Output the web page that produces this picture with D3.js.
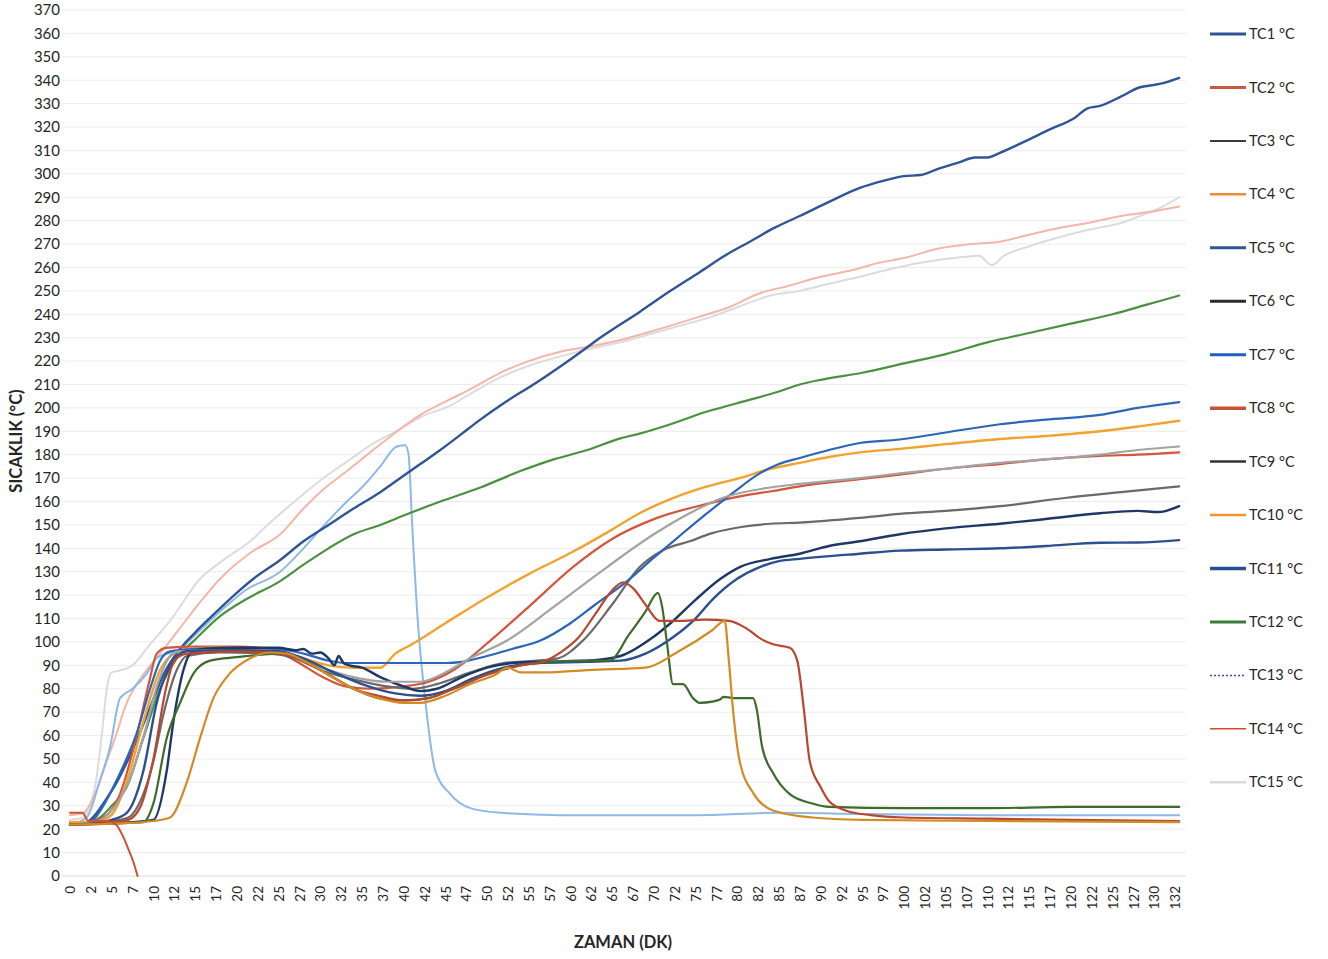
<!DOCTYPE html>
<html>
<head>
<meta charset="utf-8">
<script src="https://cdn.jsdelivr.net/npm/d3@7"></script>
<style>
  html, body { margin: 0; padding: 0; background: #ffffff; }
  svg { display: block; font-family: Lato, "Open Sans", sans-serif; }
</style>
</head>
<body>
<svg id="chart" width="1328" height="959"></svg>
<script>
// Thermocouple readings: [minute, °C]
const tc1 = [[0,22],[2,23],[3,26],[4,31],[5.6,40],[7,50],[8,58],[9.6,72],[11.2,86],[13.2,97],[15,104],[17,111],[20,121],[22,127],[25.2,135],[28,143],[31,150],[34,157],[37.2,164],[40,171],[42,176],[44.4,182],[47,189],[49.2,195],[52,202],[56,211],[60.5,222],[64,231],[68.3,241],[72,250],[75.5,258],[78.5,265],[81.5,271],[84.5,277],[87.5,282],[91,288],[94.7,294],[97.5,297],[100,299],[102,299.5],[104,302],[106.7,305],[108.5,307],[110,307],[111.5,309],[114,313],[117.5,319],[120.5,324],[122,328],[123.5,329],[126,333],[128.3,337],[130,338],[131.3,339],[133,341]];
const tc2 = [[0,23],[2,23],[4,25],[6,35],[8,60],[9.5,83],[10.4,95],[11.5,97.5],[15,98],[20,98],[24,97],[27,92],[30.3,85],[33,81],[36,80],[40,81],[43,83],[46,88],[50.4,100.6],[55,115],[60.3,132],[65,144],[70.4,153],[76.4,159],[80,162],[84.3,164.5],[87.5,166.5],[94.7,169.5],[99.5,171.5],[105,174],[111.5,176],[117,178],[123.5,179.5],[128,180],[133,181]];
const tc3 = [[0,22],[4,23],[7,25],[8,29],[10,49],[11.2,69],[12.8,88],[14,94],[18,95.5],[24,95],[27,93],[30,88],[34,84],[38,81],[41,80],[44,82],[48,87],[52,91],[56,92],[58.5,93],[61.5,100.6],[65,116],[68.3,132],[71,139],[74.3,143],[77,146.5],[80.3,149],[84,150.5],[87.5,151],[94.7,153],[99.5,154.7],[105,156],[111.5,158],[119.5,161.6],[126,164],[133,166.5]];
const tc4 = [[0,23],[2,23],[4,24],[5.2,27],[7.2,45],[8.8,66],[10.8,88],[12.4,95],[14,97],[18,97.5],[22,97],[25,96],[28,93],[31,90],[34,89],[37.2,89],[39,95],[41,99],[45,108],[50,119],[55,129],[60,138],[65,148],[68.3,155],[72,161],[76,166],[80.3,170],[84,174],[87.5,176.5],[91,179],[94.7,181],[99.5,182.5],[105,184.5],[111.5,186.7],[117,188],[123.5,190],[128,192],[133,194.5]];
const tc5 = [[0,22],[2,22.5],[2.8,24],[4,30],[5.6,41],[8,61],[9.6,80],[10.8,92],[12,96],[15,97],[20,97.5],[25,97],[28,95],[31,92],[33,91],[40,91],[45,91],[47,91.5],[50,94],[53,97],[56.4,100.6],[60,108],[63,116],[66.8,126],[70,136],[73,145],[76.4,155],[79.6,164],[82.7,172],[85,176],[87.5,178.6],[91,182],[94.7,185],[99.5,186.5],[105,189.5],[111.5,193],[117,195],[123.5,197],[128,200],[133,202.5]];
const tc6 = [[0,22],[5,22.5],[10,24],[11.6,45],[12.4,66],[13.6,88],[14.4,95],[16,97],[20,97.5],[25,97.5],[27,96.5],[28,97],[29,95],[30,95.5],[31,93],[31.7,90],[32.2,94],[32.8,91],[33.5,90],[35,89],[37.2,85],[40,81],[42,79],[44,80],[47,85],[50,89],[53,91],[56,91.5],[62,92],[66,94],[69.9,102],[72,108],[75,118],[78,127],[80.3,132],[84,135.5],[87.5,137.7],[91,141],[94.7,143],[99.5,146],[105,148.5],[111.5,150.5],[117,152.5],[123.5,155],[128,156],[130.5,155.5],[133,158]];
const tc7 = [[0,22],[2,25],[3.6,41],[4.8,55],[6,76],[7.5,80],[9.2,86.5],[10.4,93],[13.2,97],[15,103],[18,113],[21,122],[25.2,130],[28,140],[30,148],[33.2,160],[35,166],[37.2,175],[39.2,183.5],[40.2,184],[40.6,180],[41,152],[41.7,109],[42.6,75],[43.8,45],[45.6,35],[48,29],[51.6,27],[58.8,26],[75,26],[85,27],[95,26.5],[110,26],[133,26]];
const tc8 = [[0,22],[4,22.5],[7,24],[8.5,30],[10,50],[11.5,80],[12.5,92],[14,95],[20,96],[25,95],[28,92],[31,86],[34,80],[37,77],[40,75],[43,76],[46,80],[50,86],[54,90],[57,92],[59,96],[61,102],[63,112],[65,122],[66.3,125.5],[67.5,123],[69,116],[70.7,109],[73,109],[76,109.5],[79,109],[81,106],[83,101],[84.3,99],[86.3,97.5],[87.2,92],[88,71],[88.7,49],[90,38],[91,32],[93,28],[96,26],[100,25],[110,24.5],[120,24],[133,23.5]];
const tc9 = [[0,22],[3,23],[5,28],[7,40],[9,62],[10.5,82],[11.8,93],[13,96],[20,96.5],[25,95.5],[28,92],[31,88],[34,85],[38,83],[42,83],[45,87],[48,93],[52.4,100.6],[58,115],[64.4,132],[70,146],[74.3,155],[78.3,161.6],[84,166],[87.5,167.5],[94.7,170],[99.5,172],[105,174],[111.5,176.5],[117,178],[123.5,180],[128,182],[133,183.5]];
const tc10 = [[0,22],[6,22.5],[10,23.5],[12,25],[14,40],[15.6,59],[17.2,76],[18.8,85],[21.6,93],[24,95.5],[26,95],[28,92],[31,86],[34,80],[37,76],[40,74],[42,74],[45,77],[48,82],[51,86],[52.5,89],[54,87],[57,87],[62,88],[66,88.5],[69,89],[73,96],[77,105],[78.5,109],[79,92],[79.5,71],[80.3,49],[82,35],[84.3,28],[89,25],[95,24],[110,23.5],[133,23]];
const tc11 = [[0,22],[3,22.5],[5,24],[6.8,27],[8.8,45],[10.4,74],[12.4,92],[14,96],[20,96.5],[25,96],[28,93],[31,88],[35,82],[39,78],[42,77],[45,79],[48,84],[52,89],[56,91],[62,91.5],[66,92],[69,95],[72.3,102],[75,110],[77,118],[80,127],[82.7,132],[85,134.5],[87.5,135.5],[94.7,137.7],[99.5,139],[105,139.5],[111.5,140],[117,141],[123.5,142.4],[128,142.5],[133,143.5]];
const tc12 = [[0,22],[2,22.5],[3.6,25],[5,30],[6.8,38],[8.8,59],[10.8,80],[12.8,93],[15,101],[18,111],[21,118],[25.2,126],[28,133],[31,140],[34,146],[37.2,150],[40,154],[44.4,160],[49.2,166],[54,173],[58,178],[62,182],[66,187],[68.3,189],[72,193],[76,198],[80,202],[85,207],[87.5,210],[90,212],[95,215],[100,219],[105,223],[110,228],[115,232],[120,236],[125,240],[129,244],[133,248]];
const tc13 = [[0,22],[5,22.5],[8.8,23],[10,31],[11.6,59],[13.2,74],[14.8,86.5],[16.8,92],[20,93.5],[25,95],[28,92],[31,86],[34,80],[37,76],[40,75],[43,76],[46,80],[50,86],[54,90],[58,91.5],[62,92],[64.7,92],[67,103],[69,113],[70.5,121],[71,115],[71.6,99],[72.3,82],[73.5,82],[74.7,76],[75.5,74],[77,74.5],[78,75.5],[78.3,76.5],[80,76],[81.9,76],[82.3,72],[83,55],[84.3,44],[86.3,35],[89,31],[91,29.5],[100,29],[110,29],[120,29.5],[133,29.5]];
const tc14 = [[0,27],[1.5,27],[2.2,23.5],[4.4,23.5],[5.5,22],[6.4,16.6],[7,11.5],[7.6,6],[8.1,0]];
const tc15 = [[0,24],[1.5,25],[3,38],[3.8,60],[4.5,82],[5,87],[6.2,88],[7.5,90],[9.6,99],[12,109],[15.6,127],[18,134],[21.6,143],[24,151],[27.6,162],[30,169],[33.6,178],[36,184],[39.6,191],[42,196],[45.6,201],[48,206],[51.6,213],[55,218],[58.8,222],[62,225],[66,228],[70,232],[73,235],[77,239],[80,243],[84,248],[87.5,250],[91,253],[94.7,256],[98,259],[102,262],[106,264],[109,265],[110.5,261],[112,265],[115,269],[118.7,273],[122,276],[126,279],[129,283],[131,286],[133,290]];
const tc16 = [[0,26],[1.6,27],[3,35],[4.4,49],[5.5,60],[6.8,74],[8,82],[9.2,88],[10.8,95],[13.2,106],[15.6,117],[18,127],[21.6,138],[25.2,146],[28,157],[30,164],[33.2,173],[36,181],[39.6,191],[42,197],[45.2,203],[48,208],[51.6,215],[55,220],[58.8,224],[62,226],[66,229],[70,233],[75.5,239],[79,243],[82.7,249],[86,252],[90,256],[94,259],[97,262],[100,264],[104,268],[108,270],[111.5,271],[115,274],[118.7,277],[122,279],[126,282],[130,284],[133,286]];

const seriesData = [tc1, tc2, tc3, tc4, tc5, tc6, tc7, tc8, tc9, tc10, tc11, tc12, tc13, tc14, tc15, tc16];
const seriesNames = ["TC1 °C","TC2 °C","TC3 °C","TC4 °C","TC5 °C","TC6 °C","TC7 °C","TC8 °C","TC9 °C","TC10 °C","TC11 °C","TC12 °C","TC13 °C","TC14 °C","TC15 °C",""];

// Axis labels
const xTickLabels = ["0","2","5","7","10","12","15","17","20","22","25","27","30","32","35","37","40","42","45","47","50","52","55","57","60","62","65","67","70","72","75","77","80","82","85","87","90","92","95","97","100","102","105","107","110","112","115","117","120","122","125","127","130","132"];
const yTickValues = [0,10,20,30,40,50,60,70,80,90,100,110,120,130,140,150,160,170,180,190,200,210,220,230,240,250,260,270,280,290,300,310,320,330,340,350,360,370];

// Styling
const lineColors = ["#2F5597","#D4553A","#6A6A6A","#F2A22E","#2C66B8","#1E3866","#8DB9E6","#B8472F","#A3A3A3","#D38B26","#2B4F8F","#4A9140","#3D6B2A","#D2502F","#DCDCDC","#F4B6A6"];
const lineWidths = [2.4,2.2,2.2,2.4,2.2,2.4,2,2.2,2.2,2.2,2.4,2.2,2.2,2,2,2];
const legendColors = ["#2F5597","#C75A3E","#3A3A3A","#E98C34","#2F5597","#2B2B2B","#1F5FC4","#C5553A","#333333","#F0962E","#264F8F","#3A7D3A","#2F4F9A","#D9472B","#DADADA"];
const legendWidths = [3,3,2,2.5,3,3,3,3.5,2.5,2.5,3.5,3,1.5,1.5,2.5];
const drawOrder = [14,15,6,11,0,1,2,3,4,5,8,10,12,7,9,13];

const svg = d3.select("#chart");

const x = d3.scaleLinear().domain([0, 133.5]).range([70, 70 + 133.5 * 8.34]);
const y = d3.scaleLinear().domain([0, 370]).range([876, 10]);

// Horizontal gridlines
svg.append("g")
  .selectAll("line")
  .data(yTickValues)
  .join("line")
  .attr("x1", 62).attr("x2", 1186)
  .attr("y1", d => y(d)).attr("y2", d => y(d))
  .attr("stroke", d => d === 0 ? "#dcdcdc" : "#ececec")
  .attr("stroke-width", 1);

// Y axis labels
const yAxis = d3.axisLeft(y).tickValues(yTickValues).tickSize(0).tickPadding(0);
svg.append("g")
  .attr("transform", "translate(60,0)")
  .call(yAxis)
  .call(g => g.select(".domain").remove())
  .call(g => g.selectAll("text")
    .attr("font-family", "Lato, 'Open Sans', sans-serif")
    .attr("font-size", 15)
    .attr("fill", "#262626"));

// X axis labels (rotated)
const xAxis = d3.axisBottom(x)
  .tickValues(xTickLabels.map((_, i) => i * 2.5))
  .tickFormat((d, i) => xTickLabels[i])
  .tickSize(0);
svg.append("g")
  .attr("transform", "translate(0,886)")
  .call(xAxis)
  .call(g => g.select(".domain").remove())
  .call(g => g.selectAll("text")
    .attr("font-family", "Lato, 'Open Sans', sans-serif")
    .attr("font-size", 13.5)
    .attr("fill", "#262626")
    .attr("text-anchor", "end")
    .attr("transform", "rotate(-90)")
    .attr("x", 0)
    .attr("y", 0)
    .attr("dy", "0.35em"));

// Series lines
const line = d3.line()
  .x(d => x(d[0]))
  .y(d => y(d[1]))
  .curve(d3.curveMonotoneX);

svg.append("g")
  .attr("fill", "none")
  .attr("stroke-linejoin", "round")
  .attr("stroke-linecap", "round")
  .selectAll("path")
  .data(drawOrder)
  .join("path")
  .attr("d", i => line(seriesData[i]))
  .attr("stroke", i => lineColors[i])
  .attr("stroke-width", i => lineWidths[i]);

// Axis titles
svg.append("text")
  .attr("transform", "translate(22,441) rotate(-90)")
  .attr("text-anchor", "middle")
  .attr("font-size", 16.5)
  .attr("font-weight", 700)
  .attr("fill", "#262626")
  .text("SICAKLIK (°C)");

svg.append("text")
  .attr("x", 623)
  .attr("y", 948)
  .attr("text-anchor", "middle")
  .attr("font-size", 16.5)
  .attr("font-weight", 700)
  .attr("fill", "#262626")
  .text("ZAMAN (DK)");

// Legend
const legendItems = seriesNames.map((n, i) => ({ name: n, i })).filter(d => d.name !== "");
const legend = svg.append("g");
const items = legend.selectAll("g")
  .data(legendItems)
  .join("g")
  .attr("transform", (d, k) => `translate(1210,${34 + k * 53.45})`);
items.append("line")
  .attr("x1", 0).attr("x2", 36)
  .attr("y1", 0).attr("y2", 0)
  .attr("stroke", d => legendColors[d.i])
  .attr("stroke-width", d => legendWidths[d.i])
  .attr("stroke-dasharray", d => d.i === 12 ? "2,2" : null);
items.append("text")
  .attr("x", 39)
  .attr("y", 0)
  .attr("dy", "0.35em")
  .attr("font-size", 14.5)
  .attr("fill", "#262626")
  .text(d => d.name);
</script>
</body>
</html>
